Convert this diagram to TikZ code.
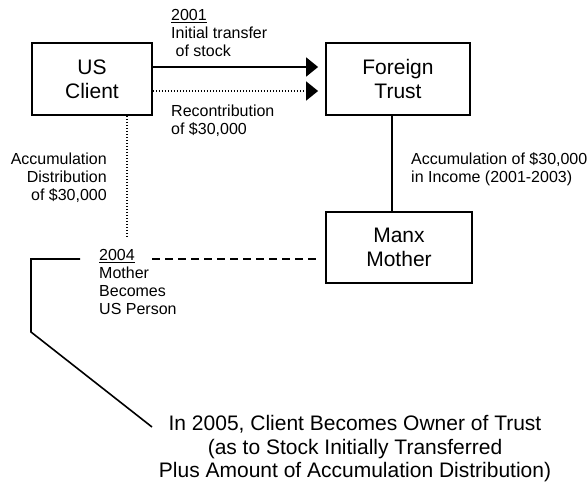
\documentclass[tikz,border=0pt]{standalone}
\usepackage{fontspec}
\setmainfont{Liberation Sans}
\usetikzlibrary{arrows.meta,calc}
\begin{document}
\begin{tikzpicture}[x=1pt,y=-1pt,
  box/.style={draw,line width=1.8pt,inner sep=0pt,align=center,font=\fontsize{21}{24}\selectfont},
  lbl/.style={inner sep=0pt,font=\fontsize{16}{18}\selectfont},
  conn/.style={line width=1.8pt},
  dotline/.style={line width=1.3pt,dash pattern=on 1.2pt off 1.8pt},
  dashline/.style={line width=1.8pt,dash pattern=on 8pt off 5pt},
  arr/.style={-{Triangle[length=12pt,width=19pt]},shorten >=7pt}
]
\useasboundingbox (0,0) rectangle (588,487);
\node[box,minimum width=120pt,minimum height=72pt] (uc) at (92,79) {US\\Client};
\node[box,minimum width=144pt,minimum height=72pt] (ft) at (398,79) {Foreign\\Trust};
\node[box,minimum width=146pt,minimum height=71pt] (mm) at (399,247.5) {Manx\\Mother};

\draw[conn,arr] ([yshift=12pt]uc.east) -- ([yshift=12pt]ft.west);
\draw[dotline,arr] ([yshift=-12pt]uc.east) -- ([yshift=-12pt]ft.west);

\node[lbl,anchor=north west,align=left] (l2001) at (171,9.3) {\underline{2001}\\Initial transfer\\\hspace*{4.5pt}of stock};
\node[lbl,anchor=north west,align=left] (lrec) at (171,104.3) {Recontribution\\of \$30,000};
\node[lbl,anchor=north east,align=right] (lacc) at (107,153) {Accumulation\\Distribution\\of \$30,000};
\node[lbl,anchor=north west,align=left] (linc) at (411,152) {Accumulation of \$30,000\\in Income (2001-2003)};
\node[lbl,anchor=north west,align=left] (l2004) at (99,249) {\underline{2004}\\Mother\\Becomes\\US Person};

\draw[conn] ([xshift=-6pt]ft.south) -- ([xshift=-6pt]ft.south |- mm.north);

\coordinate (dend) at (127,236);
\draw[dotline] (uc.south -| dend) -- (dend);

\coordinate (dstart) at (152,259);
\draw[dashline,shorten >=5pt] (dstart) -- (dstart -| mm.west);

\coordinate (p1) at (80,259);
\coordinate (p3) at (31,332);
\coordinate (p4) at (152,427);
\draw[line width=1.6pt] (p1) -| (p3) -- (p4);

\node[inner sep=0pt,align=center,font=\fontsize{21}{23.5}\selectfont] (own) at (355,449)
  {In 2005, Client Becomes Owner of Trust\\(as to Stock Initially Transferred\\Plus Amount of Accumulation Distribution)};
\end{tikzpicture}
\end{document}
